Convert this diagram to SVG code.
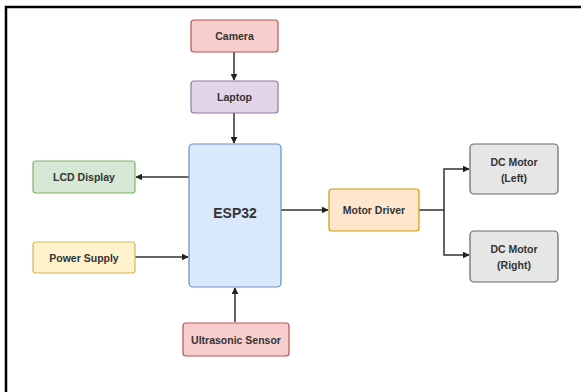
<svg xmlns="http://www.w3.org/2000/svg" width="581" height="392" viewBox="0 0 581 392">
<style>
.n rect{stroke-width:1.2}
.t{font-family:"Liberation Sans",Arial,sans-serif;font-size:10.5px;font-weight:bold;fill:#333;text-anchor:middle;dominant-baseline:central}
.c{fill:none;stroke:#333;stroke-width:1.5}
</style>
<defs>
<marker id="ah" viewBox="0 0 10 10" refX="9" refY="5" markerWidth="7" markerHeight="7" orient="auto" markerUnits="userSpaceOnUse">
<path d="M0,0 L10,5 L0,10 z" fill="#222"/>
</marker>
</defs>
<rect x="0" y="0" width="581" height="392" fill="#fff"/>
<path d="M6,392 V7 H581" fill="none" stroke="#000" stroke-width="2.5"/>
<g id="connectors">
<path class="c" d="M234,52 V80" marker-end="url(#ah)"/>
<path class="c" d="M234,113 V143" marker-end="url(#ah)"/>
<path class="c" d="M189,177 H136" marker-end="url(#ah)"/>
<path class="c" d="M135,257 H188" marker-end="url(#ah)"/>
<path class="c" d="M235,322 V288" marker-end="url(#ah)"/>
<path class="c" d="M281,210 H328" marker-end="url(#ah)"/>
<path class="c" d="M419,210 H444 V169 H469" marker-end="url(#ah)"/>
<path class="c" d="M444,210 V255 H469" marker-end="url(#ah)"/>
</g>
<g id="camera" class="n"><rect x="191" y="20" width="87" height="32" rx="3" fill="#f8cecc" stroke="#b85450"/><text class="t" x="234.5" y="36">Camera</text></g>
<g id="laptop" class="n"><rect x="191" y="81" width="87" height="32" rx="3" fill="#e1d5e7" stroke="#9673a6"/><text class="t" x="234.5" y="97">Laptop</text></g>
<g id="esp32" class="n"><rect x="189" y="144" width="92" height="143" rx="4" fill="#dae8fc" stroke="#6c8ebf"/><text class="t" x="235" y="213" style="font-size:14px">ESP32</text></g>
<g id="lcd" class="n"><rect x="33" y="161" width="102" height="32" rx="3" fill="#d5e8d4" stroke="#82b366"/><text class="t" x="84" y="177">LCD Display</text></g>
<g id="power" class="n"><rect x="33" y="242" width="102" height="31" rx="3" fill="#fff2cc" stroke="#d6b656"/><text class="t" x="84" y="257.5">Power Supply</text></g>
<g id="motordriver" class="n"><rect x="329" y="189" width="90" height="42" rx="3" fill="#ffe6cc" stroke="#d79b00"/><text class="t" x="374" y="210">Motor Driver</text></g>
<g id="motorleft" class="n"><rect x="470" y="144" width="88" height="50" rx="4" fill="#e6e6e6" stroke="#666"/><text class="t" x="514" y="162">DC Motor</text><text class="t" x="514" y="178">(Left)</text></g>
<g id="motorright" class="n"><rect x="470" y="231" width="88" height="51" rx="4" fill="#e6e6e6" stroke="#666"/><text class="t" x="514" y="249">DC Motor</text><text class="t" x="514" y="265">(Right)</text></g>
<g id="ultrasonic" class="n"><rect x="183" y="323" width="106" height="33" rx="3" fill="#f8cecc" stroke="#b85450"/><text class="t" x="236" y="339.5">Ultrasonic Sensor</text></g>
</svg>
